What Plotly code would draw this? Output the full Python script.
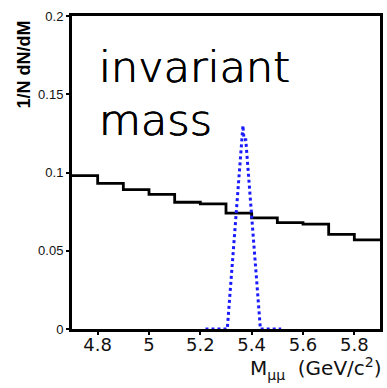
import plotly.graph_objects as go

# Data
bin_edges = [4.7, 4.8, 4.9, 5.0, 5.1, 5.2, 5.3, 5.4, 5.5, 5.6, 5.7, 5.8, 5.9]
bg_values = [0.098, 0.093, 0.089, 0.086, 0.081, 0.080, 0.074, 0.071, 0.068, 0.067, 0.0605, 0.057]
sig_x = [5.22, 5.305, 5.366, 5.370, 5.377, 5.434, 5.515]
sig_y = [0.0, 0.0, 0.130, 0.121, 0.121, 0.0, 0.0]
xtick_vals = [4.8, 5.0, 5.2, 5.4, 5.6, 5.8]
xtick_text = ["4.8", "5", "5.2", "5.4", "5.6", "5.8"]
ytick_vals = [0, 0.05, 0.1, 0.15, 0.2]
ytick_text = ["0", "0.05", "0.1", "0.15", "0.2"]

W, H = 387, 388
ml, mr, mt, mb = 72, 4, 16, 59
pw, ph = W - ml - mr, H - mt - mb

def px_x(p):
    return (p - ml) / pw

def px_y(p):
    return (H - mb - p) / ph

fig = go.Figure()
fig.add_trace(go.Scatter(
    x=bin_edges, y=bg_values + [bg_values[-1]],
    mode="lines", line=dict(color="black", width=2.8, shape="hv"),
    hoverinfo="skip", showlegend=False))
fig.add_trace(go.Scatter(
    x=sig_x, y=sig_y, mode="lines",
    line=dict(color="#1a1aff", width=3, dash="dot"),
    hoverinfo="skip", showlegend=False))

axis_common = dict(showgrid=False, zeroline=False, showline=True, linecolor="black",
                   linewidth=3, mirror=True, ticks="outside", tickcolor="black",
                   tickwidth=2, ticklen=3)
fig.update_xaxes(range=[4.7, 5.9], tickvals=xtick_vals, ticktext=xtick_text,
                 tickfont=dict(family="DejaVu Sans", size=18, color="#111"),
                 ticklabelstandoff=-6, **axis_common)
fig.update_yaxes(range=[0, 0.2], tickvals=ytick_vals, ticktext=ytick_text,
                 tickfont=dict(family="Liberation Sans", size=13, color="#111"),
                 **axis_common)

thick = "0.4px 0.4px 0 black, -0.4px -0.4px 0 black"
fig.add_annotation(text="invariant", xref="paper", yref="paper",
                   x=px_x(97), y=px_y(67), xanchor="left", yanchor="middle",
                   showarrow=False,
                   font=dict(family="DejaVu Sans", size=43, color="black",
                             weight=200, shadow=thick))
fig.add_annotation(text="mass", xref="paper", yref="paper",
                   x=px_x(97), y=px_y(120), xanchor="left", yanchor="middle",
                   showarrow=False,
                   font=dict(family="DejaVu Sans", size=43, color="black",
                             weight=200, shadow=thick))
fig.add_annotation(text="<b>1/N dN/dM</b>", xref="paper", yref="paper",
                   x=px_x(24), y=px_y(64), xanchor="center", yanchor="middle",
                   textangle=-90, showarrow=False,
                   font=dict(family="Liberation Sans", size=18, color="black"))
fig.add_annotation(text="M<sub>μμ</sub>  (GeV/c<sup>2</sup>)", xref="paper", yref="paper",
                   x=px_x(387), y=px_y(368), xanchor="right", yanchor="middle",
                   showarrow=False,
                   font=dict(family="DejaVu Sans", size=20, color="#111"))

fig.update_layout(width=W, height=H, margin=dict(l=ml, r=mr, t=mt, b=mb),
                  plot_bgcolor="white", paper_bgcolor="white")
fig.write_html("out.html")
